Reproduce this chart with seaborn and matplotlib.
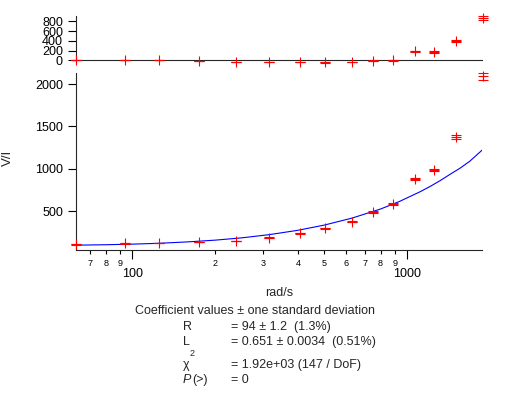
import numpy as np
import matplotlib
matplotlib.use("Agg")
import matplotlib.pyplot as plt
import matplotlib.ticker as mticker
import seaborn as sns

# ─────────────── values ───────────────
omega = [62.5, 94.3, 125.4, 174.8, 238.8, 314.8, 408, 502, 631, 750,
         885, 1066, 1253, 1500, 1880]
v_over_i = [112, 123, 127, 139, 150, 189, 241, 300, 378, 489,
            583, 881, 988, 1372, 2091]
v_err = [3, 3, 3, 3, 4, 4, 5, 6, 8, 10, 12, 14, 16, 24, 38]
residual = [10, 11, 3, -8, -30, -33, -40, -40, -35, -10,
            0, 185, 166, 393, 866]

# fitted curve
fit_omega = [62.5, 80, 100, 125, 160, 200, 250, 315, 400, 500, 630,
             800, 940, 1110, 1210, 1315, 1450, 1555, 1690, 1880]
fit_vi = [102, 107, 114, 124, 141, 161, 188, 226, 277, 339, 421,
          528, 619, 729, 793, 861, 948, 1008, 1092, 1227]

main_yticks = [500, 1000, 1500, 2000]
res_yticks = [0, 200, 400, 600, 800]

coef_names = ["R", "L"]
coef_values = ["= 94 ± 1.2  (1.3%)", "= 0.651 ± 0.0034  (0.51%)"]
chi_value = "= 1.92e+03 (147 / DoF)"
p_value = "= 0"

# ─────────────────────────── style ───────────────────────────────
sns.set_style("ticks")
plt.rcParams["font.family"] = ["Liberation Sans", "DejaVu Sans"]
plt.rcParams["axes.linewidth"] = 0.8

W, H = 516, 398
fig = plt.figure(figsize=(W / 100, H / 100), dpi=100)


def fx(px):
    return px / W


def fy(py):
    return 1 - py / H


ax_res = fig.add_axes([fx(76), fy(61), fx(482 - 76), (61 - 16) / H])
ax = fig.add_axes([fx(76), fy(250), fx(482 - 76), (250 - 73) / H])

err_kw = dict(fmt="+", color="red", ms=6.5, mew=0.8, elinewidth=0.8,
              capsize=3.25, capthick=0.8, clip_on=False, zorder=3)

# ─────────────────────── residual panel ──────────────────────────
ax_res.set_xscale("log")
ax_res.errorbar(omega, residual, yerr=v_err, **err_kw)
ax_res.set_xlim(62.4, 1870)
ax_res.set_ylim(-15, 909)
ax_res.set_yticks(res_yticks)
ax_res.spines["bottom"].set_position(("data", 0))
sns.despine(ax=ax_res)
ax_res.tick_params(axis="x", which="both", bottom=False, labelbottom=False)
ax_res.tick_params(axis="y", length=5.8, width=0.8, pad=3.6, labelsize=9,
                   colors="black")

# ───────────────────────── main panel ────────────────────────────
ax.set_xscale("log")
ax.errorbar(omega, v_over_i, yerr=v_err, **err_kw)
sns.lineplot(x=fit_omega, y=fit_vi, ax=ax, color="blue", lw=0.8)
ax.set_xlim(62.4, 1870)
ax.set_ylim(45, 2130)
ax.set_yticks(main_yticks)
sns.despine(ax=ax)

ax.xaxis.set_major_locator(mticker.LogLocator(base=10, numticks=10))
ax.xaxis.set_major_formatter(mticker.FuncFormatter(lambda v, p: f"{v:.0f}"))
ax.xaxis.set_minor_locator(mticker.LogLocator(base=10, subs=np.arange(2, 10), numticks=50))
ax.xaxis.set_minor_formatter(mticker.FuncFormatter(
    lambda v, p: f"{v / 10 ** np.floor(np.log10(v) + 1e-9):.0f}"))

ax.tick_params(axis="x", which="major", length=6.5, width=0.8, pad=6.5,
               labelsize=9, colors="black")
ax.tick_params(axis="x", which="minor", length=3.2, width=0.8, pad=3.2,
               labelsize=6.5, colors="black")
ax.tick_params(axis="y", length=5.8, width=0.8, pad=3.6, labelsize=9,
               colors="black")
ax.set_xlabel("")
ax.set_ylabel("")

# ─────────────────────────── texts ───────────────────────────────
fig.text(fx(8), fy(158), "V/I", rotation=90, ha="center", va="center",
         fontsize=9.5)
fig.text(fx(279), fy(296), "rad/s", ha="center", va="baseline", fontsize=9)
fig.text(fx(135), fy(314), "Coefficient values ± one standard deviation",
         ha="left", va="baseline", fontsize=9)

for i, (name, val) in enumerate(zip(coef_names, coef_values)):
    base = 330 + 15 * i
    fig.text(fx(183), fy(base), name, ha="left", va="baseline", fontsize=9)
    fig.text(fx(230.7), fy(base), val, ha="left", va="baseline", fontsize=9)

fig.text(fx(183), fy(368), "χ", ha="left", va="baseline", fontsize=9)
fig.text(fx(192.3), fy(356.5), "2", ha="center", va="baseline", fontsize=6.5)
fig.text(fx(230.7), fy(368), chi_value, ha="left", va="baseline", fontsize=9)

fig.text(fx(183), fy(383), "P", ha="left", va="baseline", fontsize=9,
         style="italic")
fig.text(fx(192.3), fy(383), "(>)", ha="left", va="baseline", fontsize=9)
fig.text(fx(230.7), fy(383), p_value, ha="left", va="baseline", fontsize=9)

fig.savefig("out.png", dpi=100)
plt.close(fig)
